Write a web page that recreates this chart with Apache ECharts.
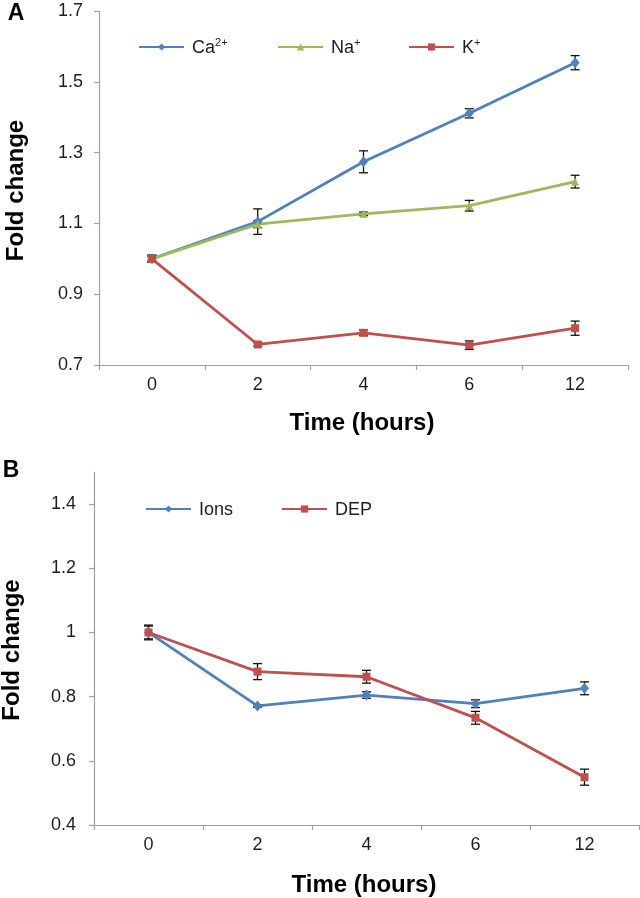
<!DOCTYPE html>
<html>
<head>
<meta charset="utf-8">
<script src="https://cdn.jsdelivr.net/npm/echarts@6/dist/echarts.min.js"></script>
<style>
  html, body { margin: 0; padding: 0; background: #fff; }
  #chart { width: 640px; height: 898px; }
</style>
</head>
<body>
<div id="chart"></div>
<script>
// ---- Data ----
const timeCategories = ['0', '2', '4', '6', '12'];

// Panel A
const caValues = [1.0, 1.105, 1.274, 1.411, 1.554];
const caErrors = [0.01, 0.036, 0.031, 0.013, 0.02];
const naValues = [1.0, 1.098, 1.127, 1.150, 1.218];
const naErrors = [0.006, 0.01, 0.005, 0.015, 0.018];
const kValues  = [1.0, 0.758, 0.791, 0.756, 0.804];
const kErrors  = [0.01, 0.005, 0.008, 0.012, 0.02];
const aTicks = [0.7, 0.9, 1.1, 1.3, 1.5, 1.7];

// Panel B
const ionsValues = [1.0, 0.771, 0.805, 0.778, 0.826];
const ionsErrors = [0.023, 0.004, 0.01, 0.012, 0.02];
const depValues  = [1.0, 0.878, 0.862, 0.734, 0.549];
const depErrors  = [0.02, 0.025, 0.02, 0.02, 0.025];
const bTicks = [0.4, 0.6, 0.8, 1.0, 1.2, 1.4];

// Names / texts
const seriesNamesA = ['Ca', 'Na', 'K'];
const seriesSupA = ['2+', '+', '+'];
const seriesNamesB = ['Ions', 'DEP'];
const yTitle = 'Fold change';
const xTitle = 'Time (hours)';

// ---- Styling ----
const BLUE = '#4F81BD', GREEN = '#9BBB59', RED = '#C0504D';
const FONT = "'Liberation Sans', Arial, Helvetica, sans-serif";
const AXIS_GRAY = '#a0a0a0';
const LABEL_COLOR = '#1e1e1e';

function errData(vals, errs) {
  return vals.map((v, i) => [i, v, errs[i]]);
}

function errorSeries(name, vals, errs, xi, yi) {
  return {
    type: 'custom',
    name: name + '_err',
    xAxisIndex: xi, yAxisIndex: yi,
    z: 1,
    silent: true,
    encode: { x: 0, y: 1 },
    data: errData(vals, errs),
    renderItem: function (params, api) {
      const x = api.value(0), v = api.value(1), e = api.value(2);
      const top = api.coord([x, v + e]);
      const bot = api.coord([x, v - e]);
      const h = 4.5;
      const st = { stroke: '#111', lineWidth: 1.3 };
      return {
        type: 'group',
        children: [
          { type: 'line', shape: { x1: top[0], y1: top[1], x2: bot[0], y2: bot[1] }, style: st },
          { type: 'line', shape: { x1: top[0] - h, y1: top[1], x2: top[0] + h, y2: top[1] }, style: st },
          { type: 'line', shape: { x1: bot[0] - h, y1: bot[1], x2: bot[0] + h, y2: bot[1] }, style: st }
        ]
      };
    }
  };
}

function lineSeries(name, vals, color, symbol, size, xi, yi) {
  return {
    type: 'line',
    name: name,
    xAxisIndex: xi, yAxisIndex: yi,
    data: vals,
    z: 3,
    symbol: symbol,
    symbolSize: size,
    showAllSymbol: true,
    lineStyle: { color: color, width: 2.8 },
    itemStyle: { color: color },
    emphasis: { disabled: true }
  };
}

function xAxisDef(gi) {
  return {
    type: 'category',
    gridIndex: gi,
    data: timeCategories,
    boundaryGap: true,
    axisLine: { lineStyle: { color: AXIS_GRAY, width: 1.2 } },
    axisTick: { show: true, length: 5, lineStyle: { color: AXIS_GRAY, width: 1.2 } },
    axisLabel: { color: LABEL_COLOR, fontFamily: FONT, fontSize: 18, margin: 11 },
    splitLine: { show: false }
  };
}

function yAxisDef(gi, min, max, ticks, fmt, margin) {
  return {
    type: 'value',
    gridIndex: gi,
    min: min, max: max,
    axisLine: { show: true, lineStyle: { color: AXIS_GRAY, width: 1.2 } },
    axisTick: { show: true, length: 5, customValues: ticks, lineStyle: { color: AXIS_GRAY, width: 1.2 } },
    axisLabel: { color: LABEL_COLOR, fontFamily: FONT, fontSize: 18, margin: margin,
                 customValues: ticks, formatter: fmt },
    splitLine: { show: false }
  };
}

function legendDef(name, left, top, idx, isA) {
  const rich = {
    m: { fontSize: 18, fontFamily: FONT, color: LABEL_COLOR, lineHeight: 20, verticalAlign: 'bottom' },
    s: { fontSize: 11, fontFamily: FONT, color: LABEL_COLOR, lineHeight: 12, verticalAlign: 'top' }
  };
  return {
    data: [name],
    left: left, top: top,
    padding: 0,
    itemWidth: 45, itemHeight: 9,
    selectedMode: false,
    formatter: isA ? function (n) { return '{m|' + n + '}{s|' + seriesSupA[idx] + '}'; }
                   : function (n) { return '{m|' + n + '}'; },
    textStyle: { padding: [0, 0, 0, 3], rich: rich, fontSize: 18, fontFamily: FONT, color: LABEL_COLOR }
  };
}

const chart = echarts.init(document.getElementById('chart'), null, { renderer: 'canvas' });

const option = {
  animation: false,
  backgroundColor: '#ffffff',
  grid: [
    { left: 99, top: 11, width: 529, height: 354 },
    { left: 94, top: 472, width: 545, height: 353 }
  ],
  xAxis: [xAxisDef(0), xAxisDef(1)],
  yAxis: [
    yAxisDef(0, 0.7, 1.7, aTicks, v => Number(v).toFixed(1), 16),
    yAxisDef(1, 0.4, 1.5, bTicks, v => String(+Number(v).toFixed(1)), 18)
  ],
  legend: [
    legendDef(seriesNamesA[0], 138, 37, 0, true),
    legendDef(seriesNamesA[1], 277, 37, 1, true),
    legendDef(seriesNamesA[2], 408, 37, 2, true),
    legendDef(seriesNamesB[0], 145, 501, 0, false),
    legendDef(seriesNamesB[1], 281, 501, 1, false)
  ],
  graphic: [
    { type: 'text', x: 16, y: 14, style: { text: 'A', font: 'bold 23px ' + FONT, fill: '#000', align: 'center', verticalAlign: 'middle' } },
    { type: 'text', x: 11, y: 471, style: { text: 'B', font: 'bold 23px ' + FONT, fill: '#000', align: 'center', verticalAlign: 'middle' } },
    { type: 'text', x: 16.5, y: 190.5, rotation: Math.PI / 2, style: { text: yTitle, font: 'bold 24px ' + FONT, fill: '#000', align: 'center', verticalAlign: 'middle' } },
    { type: 'text', x: 12.5, y: 650, rotation: Math.PI / 2, style: { text: yTitle, font: 'bold 24px ' + FONT, fill: '#000', align: 'center', verticalAlign: 'middle' } },
    { type: 'text', x: 362, y: 423, style: { text: xTitle, font: 'bold 24px ' + FONT, fill: '#000', align: 'center', verticalAlign: 'middle' } },
    { type: 'text', x: 364, y: 885, style: { text: xTitle, font: 'bold 24px ' + FONT, fill: '#000', align: 'center', verticalAlign: 'middle' } }
  ],
  series: [
    errorSeries('Ca', caValues, caErrors, 0, 0),
    errorSeries('Na', naValues, naErrors, 0, 0),
    errorSeries('K', kValues, kErrors, 0, 0),
    lineSeries(seriesNamesA[0], caValues, BLUE, 'diamond', [9, 11], 0, 0),
    lineSeries(seriesNamesA[1], naValues, GREEN, 'triangle', 8, 0, 0),
    lineSeries(seriesNamesA[2], kValues, RED, 'rect', 8, 0, 0),
    errorSeries('Ions', ionsValues, ionsErrors, 1, 1),
    errorSeries('DEP', depValues, depErrors, 1, 1),
    lineSeries(seriesNamesB[0], ionsValues, BLUE, 'diamond', [9, 11], 1, 1),
    lineSeries(seriesNamesB[1], depValues, RED, 'rect', 8, 1, 1)
  ]
};

chart.setOption(option);
</script>
</body>
</html>
